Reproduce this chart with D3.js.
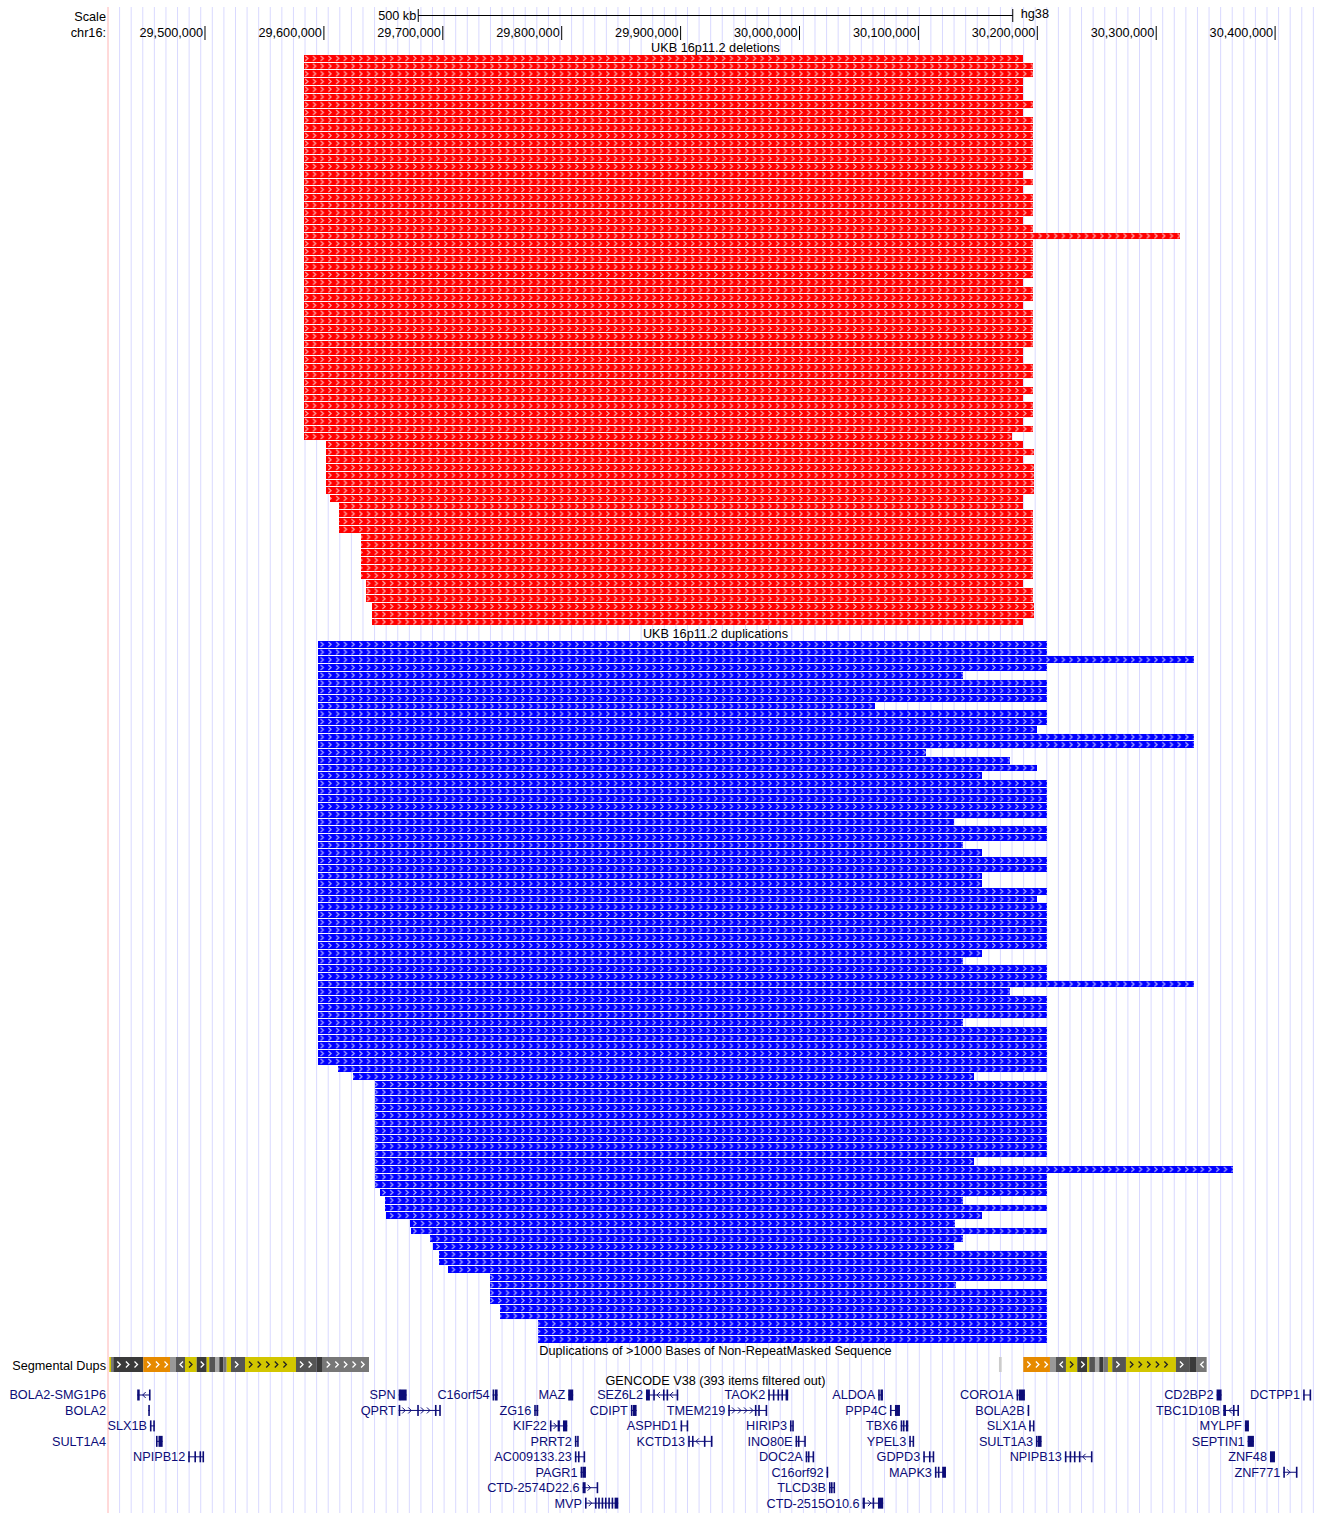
<!DOCTYPE html>
<html>
<head>
<meta charset="utf-8">
<script src="https://cdn.jsdelivr.net/npm/d3@7"></script>
<style>
  body { margin: 0; background: #fff; }
  text { font-family: Helvetica, Arial, "Liberation Sans", sans-serif; font-size: 12.7px; }
</style>
</head>
<body>
<div id="chart"></div>
<script>
// ---- view window (hg38 chr16) ----
const viewStart = 29418840, viewEnd = 30440700;
const tickValues = [29500000, 29600000, 29700000, 29800000, 29900000,
                    30000000, 30100000, 30200000, 30300000, 30400000];
const scaleBarLength = 500000;

// ---- UKB 16p11.2 deletions (one per row) ----
const delStarts = [
  29583700, 29583700, 29583700, 29583700, 29583700, 29583700, 29583700, 29583700, 29583700, 29583700,
  29583700, 29583700, 29583700, 29583700, 29583700, 29583700, 29583700, 29583700, 29583700, 29583700,
  29583700, 29583700, 29583700, 29583700, 29583700, 29583700, 29583700, 29583700, 29583700, 29583700,
  29583700, 29583700, 29583700, 29583700, 29583700, 29583700, 29583700, 29583700, 29583700, 29583700,
  29583700, 29583700, 29583700, 29583700, 29583700, 29583700, 29583700, 29583700, 29583700, 29583700,
  29602200, 29602200, 29602200, 29602200, 29602200, 29602200, 29602200, 29605500, 29613100, 29613100,
  29613100, 29613100, 29631600, 29631600, 29631600, 29631600, 29631600, 29631600, 29635800, 29635800,
  29635800, 29640900, 29640900, 29640900
];
const delEnds = [
  30188600, 30196800, 30196800, 30188600, 30188600, 30188600, 30196800, 30188600, 30196800, 30196800,
  30196800, 30196800, 30196800, 30196800, 30196800, 30188600, 30196800, 30188600, 30196800, 30196800,
  30196800, 30188600, 30196800, 30320400, 30196800, 30196800, 30196800, 30196800, 30196800, 30188600,
  30196800, 30196800, 30188600, 30196800, 30196800, 30196800, 30196800, 30196800, 30188600, 30188600,
  30196800, 30196800, 30188600, 30196800, 30188600, 30196800, 30196800, 30188600, 30196800, 30179100,
  30188600, 30197600, 30188600, 30197600, 30197600, 30197600, 30197600, 30188600, 30188600, 30196800,
  30196800, 30196800, 30196800, 30196800, 30196800, 30196800, 30196800, 30196800, 30188600, 30196800,
  30196800, 30197600, 30197600, 30188600
];

// ---- UKB 16p11.2 duplications (one per row) ----
const dupStarts = [
  29595450, 29595450, 29595450, 29595450, 29595450, 29595450, 29595450, 29595450, 29595450, 29595450,
  29595450, 29595450, 29595450, 29595450, 29595450, 29595450, 29595450, 29595450, 29595450, 29595450,
  29595450, 29595450, 29595450, 29595450, 29595450, 29595450, 29595450, 29595450, 29595450, 29595450,
  29595450, 29595450, 29595450, 29595450, 29595450, 29595450, 29595450, 29595450, 29595450, 29595450,
  29595450, 29595450, 29595450, 29595450, 29595450, 29595450, 29595450, 29595450, 29595450, 29595450,
  29595450, 29595450, 29595450, 29595450, 29595450, 29612300, 29624900, 29643400, 29643400, 29643400,
  29643400, 29643400, 29643400, 29643400, 29643400, 29643400, 29643400, 29643400, 29643400, 29643400,
  29643400, 29647600, 29651800, 29651800, 29652700, 29672800, 29673700, 29689600, 29692100, 29697200,
  29697200, 29704700, 29740100, 29740100, 29740100, 29740100, 29748500, 29748500, 29780500, 29780500,
  29780500
];
const dupEnds = [
  30208300, 30208300, 30332200, 30208300, 30137650, 30208300, 30208300, 30208300, 30063650, 30208300,
  30208300, 30199900, 30332200, 30332200, 30106550, 30177400, 30199900, 30153900, 30208300, 30208300,
  30208300, 30208300, 30208300, 30130300, 30208300, 30208300, 30137650, 30153900, 30208300, 30208300,
  30153900, 30153900, 30208300, 30199900, 30208300, 30208300, 30208300, 30208300, 30208300, 30208300,
  30153900, 30137650, 30208300, 30208300, 30332200, 30177400, 30208300, 30208300, 30208300, 30137650,
  30208300, 30208300, 30208300, 30208300, 30208300, 30208300, 30147150, 30208300, 30208300, 30208300,
  30208300, 30208300, 30208300, 30208300, 30208300, 30208300, 30208300, 30147150, 30364700, 30208300,
  30208300, 30208300, 30137650, 30208300, 30153900, 30131150, 30208300, 30137650, 30130300, 30208300,
  30208300, 30208300, 30208300, 30132000, 30208300, 30208300, 30208300, 30208300, 30208300, 30208300,
  30208300
];

// ---- Segmental Dups (dense) ----
const segStarts = [29419930, 29421360, 29423300, 29448530, 29470980, 29476030, 29483600, 29493440, 29501850,
  29504030, 29508830, 29512440, 29515810, 29518670, 29522280, 29534060, 29576950, 29594360, 29599410,
  30168170, 30188610, 30211060, 30216110, 30224520, 30234020, 30242430, 30244110, 30248910, 30252530,
  30255890, 30259840, 30263460, 30274980, 30317030, 30328220, 30334440];
const segEnds = [29421360, 29423300, 29448530, 29470980, 29476030, 29483600, 29493440, 29501850, 29504030,
  29508830, 29512440, 29515810, 29518670, 29522280, 29534060, 29576950, 29594360, 29599410, 29638340,
  30170440, 30211060, 30216110, 30224520, 30234020, 30242430, 30244110, 30248910, 30252530, 30255890,
  30259840, 30263460, 30274980, 30317030, 30328220, 30334440, 30342850];
const segLevels = ['yellow', 'g3', 'g1', 'orange', 'g4', 'g2', 'yellow', 'g1', 'yellow',
  'g2', 'g5', 'g1', 'g3', 'yellow', 'g2', 'yellow', 'g2', 'g1', 'g3',
  'g6', 'orange', 'g4', 'g2', 'yellow', 'g1', 'yellow', 'g2', 'g5', 'g1',
  'g3', 'yellow', 'g2', 'yellow', 'g2', 'g1', 'g3'];
const segStrands = ['', '', '+', '+', '', '-', '+', '+', '',
  '', '', '', '-', '', '+', '+', '+', '+', '+',
  '', '+', '', '-', '+', '+', '', '', '', '',
  '-', '', '+', '+', '+', '-', '-'];

// ---- GENCODE V38 genes ----
const geneNames = ['BOLA2-SMG1P6', 'BOLA2', 'SLX1B', 'SULT1A4', 'NPIPB12', 'SPN', 'QPRT', 'C16orf54',
  'ZG16', 'KIF22', 'MAZ', 'PRRT2', 'AC009133.23', 'PAGR1', 'CTD-2574D22.6', 'MVP', 'CDIPT', 'SEZ6L2',
  'ASPHD1', 'KCTD13', 'TMEM219', 'TAOK2', 'HIRIP3', 'INO80E', 'DOC2A', 'C16orf92', 'TLCD3B',
  'CTD-2515O10.6', 'ALDOA', 'PPP4C', 'TBX6', 'YPEL3', 'GDPD3', 'MAPK3', 'CORO1A', 'BOLA2B', 'SLX1A',
  'SULT1A3', 'NPIPB13', 'CD2BP2', 'TBC1D10B', 'MYLPF', 'SEPTIN1', 'ZNF48', 'ZNF771', 'DCTPP1'];
const geneRows = [0, 1, 2, 3, 4, 0, 1, 0,
  1, 2, 0, 3, 4, 5, 6, 7, 1, 0,
  2, 3, 1, 0, 2, 3, 4, 5, 6,
  7, 0, 1, 2, 3, 4, 5, 0, 1, 2,
  3, 4, 0, 1, 2, 3, 4, 5, 0];
const geneStrands = ['-', '', '', '', '-', '', '+', '',
  '', '+', '', '', '', '', '+', '+', '', '-',
  '', '-', '+', '', '', '', '', '', '',
  '+', '', '+', '', '', '-', '', '', '', '',
  '', '-', '', '-', '', '', '', '+', '-'];
const geneExons = [
  [[29443400, 29445500], [29453300, 29454100]],
  [[29452700, 29453900]],
  [[29454100, 29455200], [29456900, 29458100]],
  [[29459200, 29459800], [29461300, 29464800]],
  [[29486300, 29486900], [29491500, 29492400], [29495800, 29496600], [29498300, 29499000]],
  [[29663300, 29663800], [29664400, 29670000]],
  [[29663300, 29663800], [29678900, 29679500], [29693800, 29694400], [29697400, 29698000]],
  [[29742300, 29742800], [29744200, 29746500]],
  [[29777300, 29777900], [29779100, 29780700]],
  [[29790500, 29791100], [29797000, 29798900], [29801500, 29805100]],
  [[29805900, 29810100]],
  [[29811500, 29812100], [29813400, 29814300]],
  [[29811500, 29812400], [29814100, 29815400], [29818800, 29819900]],
  [[29816300, 29816800], [29817800, 29820800]],
  [[29818000, 29818500], [29819200, 29819700], [29829800, 29830300]],
  [[29820000, 29820600], [29828400, 29829000], [29831100, 29831700], [29834000, 29834500],
   [29836800, 29837400], [29839600, 29840200], [29842400, 29842900], [29844900, 29848000]],
  [[29858600, 29859200], [29860300, 29863400]],
  [[29871300, 29874600], [29877400, 29878000], [29885600, 29886100], [29888600, 29889100], [29897100, 29898400]],
  [[29900400, 29900900], [29905500, 29906000]],
  [[29906800, 29907400], [29910000, 29910800], [29920000, 29920900], [29925900, 29926500]],
  [[29940500, 29941100], [29962900, 29963800], [29965700, 29966300], [29971900, 29972800]],
  [[29974100, 29974700], [29978000, 29978900], [29981900, 29982700], [29985200, 29986000], [29988700, 29990900]],
  [[29992400, 29993000], [29994300, 29995200]],
  [[29997100, 29997800], [29999100, 30000200], [30004400, 30005000]],
  [[30005600, 30006100], [30007500, 30008600], [30011400, 30012000]],
  [[30023200, 30024500]],
  [[30025200, 30025800], [30026900, 30027700], [30029000, 30029600]],
  [[30053500, 30055400], [30061900, 30062400], [30066400, 30070800]],
  [[30066600, 30067200], [30068500, 30070600]],
  [[30076500, 30077100], [30080700, 30084900]],
  [[30085500, 30086000], [30087400, 30088000], [30089900, 30091900]],
  [[30092700, 30093300], [30095500, 30096600]],
  [[30104500, 30105100], [30109300, 30109900], [30112400, 30113500]],
  [[30114300, 30114900], [30116800, 30117400], [30120400, 30123600]],
  [[30183000, 30183500], [30184900, 30190000]],
  [[30192300, 30193100]],
  [[30193600, 30194200], [30196700, 30197600]],
  [[30199300, 30199900], [30201000, 30204000]],
  [[30223600, 30224200], [30227600, 30228100], [30231200, 30231800], [30235400, 30236000], [30245500, 30246100]],
  [[30351200, 30355400]],
  [[30356800, 30359100], [30365000, 30365800], [30368700, 30369400]],
  [[30375000, 30378400]],
  [[30377300, 30382600]],
  [[30396100, 30400300]],
  [[30407300, 30407900], [30417900, 30418500]],
  [[30424000, 30424600], [30429400, 30430300]]
];

// ---- layout ----
const W = 1323, H = 1513;
const dataLeft = 108, dataRight = 1323;
const rowPitch = 7.72, rowHeight = 6.72;
const chevStep = 7.72, chevPhase = 2.9;
const delTop = 55, dupTop = 641;
const segTop = 1357, segHeight = 15;
const geneTop = 1395, genePitch = 15.45, exonHeight = 11;
const geneColor = '#0c0c78';

const x = d3.scaleLinear().domain([viewStart, viewEnd]).range([dataLeft, dataRight]);
const yDel = d3.scaleLinear().domain([0, 1]).range([delTop, delTop + rowPitch]);
const yDup = d3.scaleLinear().domain([0, 1]).range([dupTop, dupTop + rowPitch]);
const yGene = d3.scaleLinear().domain([0, 1]).range([geneTop, geneTop + genePitch]);
const segColor = d3.scaleOrdinal()
  .domain(['orange', 'yellow', 'g1', 'g2', 'g3', 'g4', 'g5', 'g6'])
  .range(['#e68a00', '#d2c600', '#3a3a3a', '#555555', '#777777', '#999999', '#aaaaaa', '#cccccc']);

const svg = d3.select('#chart').append('svg')
  .attr('width', W)
  .attr('height', H);

svg.append('rect').attr('width', W).attr('height', H).attr('fill', '#fff');

// guidelines
const guides = svg.append('g');
for (let gx = dataLeft + 11.59; gx < W; gx += 11.59) {
  guides.append('line')
    .attr('x1', gx).attr('x2', gx).attr('y1', 7).attr('y2', H)
    .attr('stroke', '#d9d9ff').attr('stroke-width', 1);
}
svg.append('line')
  .attr('x1', dataLeft).attr('x2', dataLeft).attr('y1', 7).attr('y2', H)
  .attr('stroke', '#ffb4b4').attr('stroke-width', 1);

// chevron patterns for the CNV rows
const defs = svg.append('defs');
function chevronPattern(id, bg, fg, top) {
  const p = defs.append('pattern')
    .attr('id', id)
    .attr('patternUnits', 'userSpaceOnUse')
    .attr('x', chevPhase).attr('y', top)
    .attr('width', chevStep).attr('height', rowPitch);
  p.append('rect').attr('width', chevStep).attr('height', rowPitch).attr('fill', bg);
  p.append('path')
    .attr('d', 'M1.3,0.9 L4,3.36 L1.3,5.8')
    .attr('fill', 'none').attr('stroke', fg).attr('stroke-width', 1.2);
}
chevronPattern('chevDel', '#ff0000', '#ffa8a8', delTop);
chevronPattern('chevDup', '#0000ff', '#a8a8ff', dupTop);

// ---- header: scale bar + axis ----
const header = svg.append('g');
header.append('text').attr('x', 106).attr('y', 21).attr('text-anchor', 'end').text('Scale');
header.append('text').attr('x', 106).attr('y', 37).attr('text-anchor', 'end').text('chr16:');

const mid = (viewStart + viewEnd) / 2;
const sb0 = x(mid - scaleBarLength / 2), sb1 = x(mid + scaleBarLength / 2);
header.append('line').attr('x1', sb0).attr('x2', sb1).attr('y1', 15.5).attr('y2', 15.5)
  .attr('stroke', '#000');
[sb0, sb1].forEach(sx => header.append('line')
  .attr('x1', sx).attr('x2', sx).attr('y1', 9).attr('y2', 22).attr('stroke', '#000'));
header.append('text').attr('x', sb0 - 2).attr('y', 20).attr('text-anchor', 'end').text('500 kb');
header.append('text').attr('x', sb1 + 8).attr('y', 18).text('hg38');

const axis = d3.axisBottom(x)
  .tickValues(tickValues)
  .tickSize(0)
  .tickFormat(d3.format(','));
const axisG = header.append('g').call(axis);
axisG.select('.domain').remove();
axisG.selectAll('.tick text')
  .attr('x', -2).attr('y', 37).attr('dy', 0)
  .attr('text-anchor', 'end')
  .attr('fill', '#000')
  .style('font-size', '12.7px')
  .style('font-family', 'Helvetica, Arial, "Liberation Sans", sans-serif');
axisG.selectAll('.tick').append('line')
  .attr('y1', 26).attr('y2', 40).attr('stroke', '#000');

// ---- track titles ----
const cx = (dataLeft + dataRight) / 2;
svg.append('text').attr('x', cx).attr('y', 52).attr('text-anchor', 'middle').text('UKB 16p11.2 deletions');
svg.append('text').attr('x', cx).attr('y', 638).attr('text-anchor', 'middle').text('UKB 16p11.2 duplications');
svg.append('text').attr('x', cx).attr('y', 1355).attr('text-anchor', 'middle')
  .text('Duplications of >1000 Bases of Non-RepeatMasked Sequence');
svg.append('text').attr('x', cx).attr('y', 1385).attr('text-anchor', 'middle')
  .text('GENCODE V38 (393 items filtered out)');

// ---- CNV rows ----
const dels = delStarts.map((s, i) => ({s, e: delEnds[i], row: i}));
const dups = dupStarts.map((s, i) => ({s, e: dupEnds[i], row: i}));

svg.append('g').selectAll('rect').data(dels).join('rect')
  .attr('x', d => x(d.s))
  .attr('y', d => yDel(d.row))
  .attr('width', d => x(d.e) - x(d.s))
  .attr('height', rowHeight)
  .attr('fill', 'url(#chevDel)')
  .attr('shape-rendering', 'crispEdges');

svg.append('g').selectAll('rect').data(dups).join('rect')
  .attr('x', d => x(d.s))
  .attr('y', d => yDup(d.row))
  .attr('width', d => x(d.e) - x(d.s))
  .attr('height', rowHeight)
  .attr('fill', 'url(#chevDup)')
  .attr('shape-rendering', 'crispEdges');

// ---- segmental dups ----
svg.append('text').attr('x', 106).attr('y', 1370).attr('text-anchor', 'end').text('Segmental Dups');
const segs = segStarts.map((s, i) => ({s, e: segEnds[i], level: segLevels[i], strand: segStrands[i]}));
const segG = svg.append('g');
segG.selectAll('rect').data(segs).join('rect')
  .attr('x', d => x(d.s))
  .attr('y', segTop)
  .attr('width', d => Math.max(1.5, x(d.e) - x(d.s)))
  .attr('height', segHeight)
  .attr('fill', d => segColor(d.level));
segs.forEach(d => {
  if (!d.strand) return;
  const x0 = x(d.s), x1 = x(d.e);
  const col = d.level === 'yellow' ? '#222' : '#fff';
  const yc = segTop + segHeight / 2;
  for (let cxp = x0 + 4; cxp + 3 < x1 - 1; cxp += 8.6) {
    const dir = d.strand === '+' ? 1 : -1;
    const bx = dir > 0 ? cxp : cxp + 3;
    segG.append('path')
      .attr('d', `M${bx},${yc - 3} L${bx + 3 * dir},${yc} L${bx},${yc + 3}`)
      .attr('fill', 'none').attr('stroke', col).attr('stroke-width', 1.3);
  }
});

// ---- genes ----
const genes = geneNames.map((name, i) => ({
  name, row: geneRows[i], strand: geneStrands[i], exons: geneExons[i],
  s: d3.min(geneExons[i], e => e[0]), e: d3.max(geneExons[i], e => e[1])
}));
const geneG = svg.append('g');
genes.forEach(g => {
  const yc = yGene(g.row);
  const gx0 = x(g.s), gx1 = x(g.e);
  const gg = geneG.append('g');
  gg.append('line').attr('x1', gx0).attr('x2', gx1).attr('y1', yc).attr('y2', yc)
    .attr('stroke', geneColor).attr('stroke-width', 1);
  // intron arrows
  if (g.strand) {
    const dir = g.strand === '+' ? 1 : -1;
    for (let k = 0; k < g.exons.length - 1; k++) {
      const a = x(g.exons[k][1]), b = x(g.exons[k + 1][0]);
      for (let ax = a + 3; ax + 3 < b - 1; ax += 6) {
        const bx = dir > 0 ? ax : ax + 3;
        gg.append('path')
          .attr('d', `M${bx},${yc - 3} L${bx + 3 * dir},${yc} L${bx},${yc + 3}`)
          .attr('fill', 'none').attr('stroke', geneColor).attr('stroke-width', 1);
      }
    }
  }
  gg.selectAll('rect').data(g.exons).join('rect')
    .attr('x', d => x(d[0]))
    .attr('y', yc - exonHeight / 2)
    .attr('width', d => Math.max(1.6, x(d[1]) - x(d[0])))
    .attr('height', exonHeight)
    .attr('fill', geneColor);
  const lbl = gg.append('text')
    .attr('x', gx0 - 3).attr('y', yc + 4.4)
    .attr('text-anchor', 'end')
    .attr('fill', geneColor)
    .text(g.name);
  const w = lbl.node().getComputedTextLength();
  // labels that would run far into the label column go there, right-aligned
  if (gx0 - 3 - w < dataLeft - 2) lbl.attr('x', 106);
});
</script>
</body>
</html>
